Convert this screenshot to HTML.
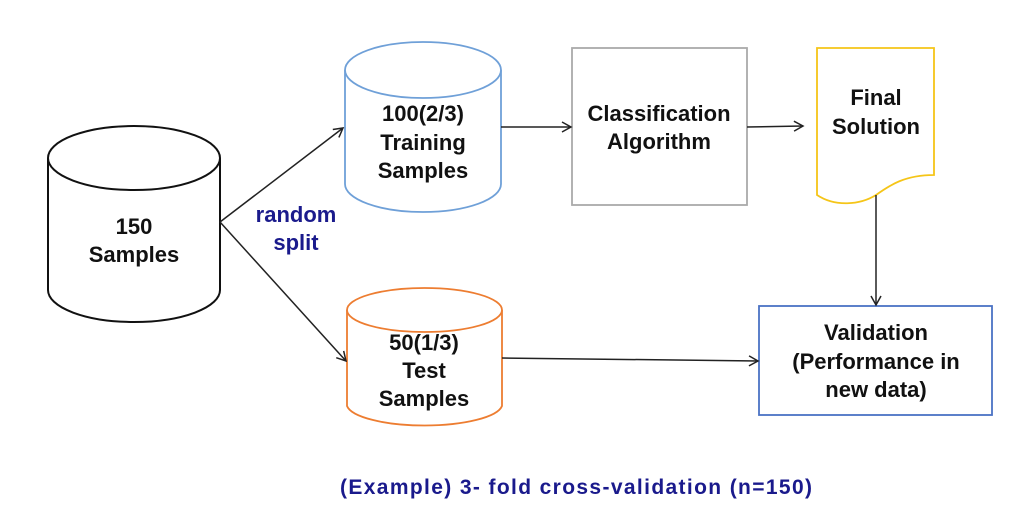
<!DOCTYPE html>
<html><head><meta charset="utf-8"><style>
html,body{margin:0;padding:0;background:#fff;}
svg text{font-family:"Liberation Sans","Noto Sans CJK KR",sans-serif;font-weight:bold;}
</style></head><body>
<svg width="1033" height="513" viewBox="0 0 1033 513" xmlns="http://www.w3.org/2000/svg">
<defs><marker id="a" markerWidth="12" markerHeight="12" refX="10" refY="6" orient="auto" markerUnits="userSpaceOnUse"><path d="M1,1 L10,6 L1,11" fill="none" stroke="#222" stroke-width="1.5"/></marker></defs>
<rect width="1033" height="513" fill="#fff"/>
<path d="M48,158 L48,290 A86,32 0 0 0 220,290 L220,158" fill="#fff" stroke="#111" stroke-width="2"/>
<ellipse cx="134" cy="158" rx="86" ry="32" fill="#fff" stroke="#111" stroke-width="2"/>
<text x="134" y="234" font-size="22" text-anchor="middle" fill="#111">150</text>
<text x="134" y="262" font-size="22" text-anchor="middle" fill="#111">Samples</text>
<path d="M345,70 L345,184 A78,28 0 0 0 501,184 L501,70" fill="#fff" stroke="#6fa0d8" stroke-width="1.8"/>
<ellipse cx="423" cy="70" rx="78" ry="28" fill="#fff" stroke="#6fa0d8" stroke-width="1.8"/>
<text x="423" y="121" font-size="22" text-anchor="middle" fill="#111">100(2/3)</text>
<text x="423" y="150" font-size="22" text-anchor="middle" fill="#111">Training</text>
<text x="423" y="178" font-size="22" text-anchor="middle" fill="#111">Samples</text>
<path d="M347,310 L347,406 A78,22 0 0 0 502,406 L502,310" fill="#fff" stroke="#ed7d31" stroke-width="1.8"/>
<ellipse cx="424.5" cy="310" rx="77.5" ry="22" fill="#fff" stroke="#ed7d31" stroke-width="1.8"/>
<text x="424" y="350" font-size="22" text-anchor="middle" fill="#111">50(1/3)</text>
<text x="424" y="378" font-size="22" text-anchor="middle" fill="#111">Test</text>
<text x="424" y="406" font-size="22" text-anchor="middle" fill="#111">Samples</text>
<rect x="572" y="48" width="175" height="157" fill="#fff" stroke="#aaa" stroke-width="1.8"/>
<text x="659" y="121" font-size="22" text-anchor="middle" fill="#111">Classification</text>
<text x="659" y="149" font-size="22" text-anchor="middle" fill="#111">Algorithm</text>
<path d="M817,48 L934,48 L934,175 C905,175 890,185 876,195 C860,205 835,207 817,195 Z" fill="#fff" stroke="#f5c518" stroke-width="1.8"/>
<text x="876" y="105" font-size="22" text-anchor="middle" fill="#111">Final</text>
<text x="876" y="134" font-size="22" text-anchor="middle" fill="#111">Solution</text>
<rect x="759" y="306" width="233" height="109" fill="#fff" stroke="#4a72c4" stroke-width="1.8"/>
<text x="876" y="340" font-size="22" text-anchor="middle" fill="#111">Validation</text>
<text x="876" y="369" font-size="22" text-anchor="middle" fill="#111">(Performance in</text>
<text x="876" y="397" font-size="22" text-anchor="middle" fill="#111">new data)</text>
<g stroke="#222" stroke-width="1.5" fill="none" marker-end="url(#a)">
<line x1="220" y1="222" x2="343" y2="128"/>
<line x1="220" y1="222" x2="346" y2="361"/>
<line x1="501" y1="127" x2="571" y2="127"/>
<line x1="747" y1="127" x2="803" y2="126"/>
<line x1="876" y1="195" x2="876" y2="305"/>
<line x1="502" y1="358" x2="758" y2="361"/>
</g>
<text x="296" y="222" font-size="22" text-anchor="middle" fill="#1a1a8c">random</text>
<text x="296" y="250" font-size="22" text-anchor="middle" fill="#1a1a8c">split</text>
<text x="576" y="494" font-size="21" text-anchor="middle" fill="#1a1a8c" textLength="472" lengthAdjust="spacing">(Example) 3- fold cross-validation (n=150)</text>
</svg>
</body></html>
